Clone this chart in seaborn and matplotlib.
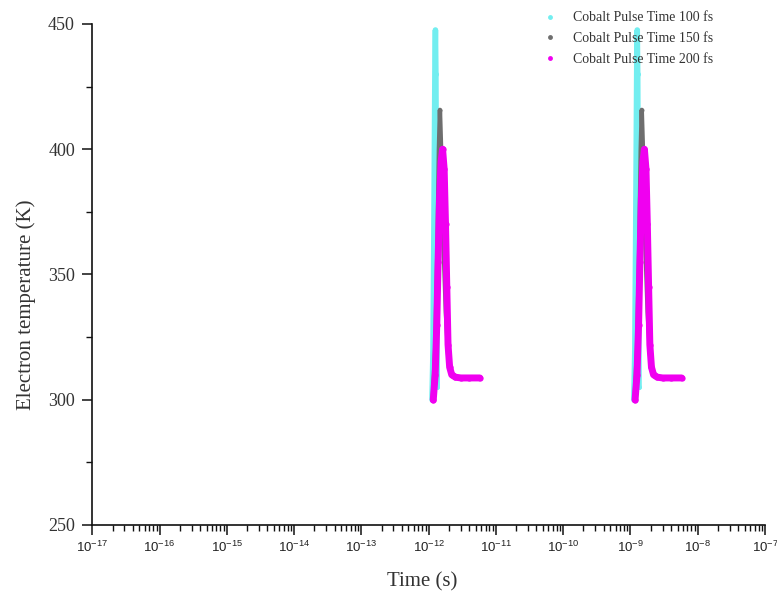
import matplotlib
matplotlib.use("Agg")
import matplotlib.pyplot as plt
from matplotlib.lines import Line2D
from matplotlib.ticker import LogLocator, MultipleLocator, NullFormatter
import numpy as np
import pandas as pd
import seaborn as sns

# Electron temperature traces (time in ps, temperature in K)
time_100fs = [1.12, 1.16, 1.19, 1.22, 1.24, 1.26, 1.28, 1.30, 1.32, 1.34]
temp_100fs = [300, 320, 360, 405, 435, 447.6, 430, 390, 345, 305]

time_150fs = [1.15, 1.25, 1.35, 1.42, 1.47, 1.55, 1.65, 1.80, 1.95, 2.15, 2.5, 3.5, 5.5]
temp_150fs = [300, 320, 360, 400, 415.7, 395, 365, 335, 318, 311, 309, 308.7, 308.7]

time_200fs = [1.17, 1.25, 1.32, 1.38, 1.45, 1.53, 1.61, 1.70, 1.78, 1.86, 1.94,
              2.05, 2.2, 2.5, 3.0, 4.0, 5.75]
temp_200fs = [299.9, 310, 330, 355, 380, 395, 400, 392, 370, 345, 322,
              313, 310, 309, 308.7, 308.7, 308.7]

labels = ["Cobalt Pulse Time 100 fs", "Cobalt Pulse Time 150 fs", "Cobalt Pulse Time 200 fs"]
colors = ["#72EEF0", "#6E6E6E", "#F000F0"]
widths = [4.0, 3.2, 5.0]

# The same runs are plotted on a picosecond and on a nanosecond time base
time_scales = [1e-12, 1e-9]

sns.set_theme(style="ticks")
plt.rcParams["font.family"] = ["Liberation Serif", "DejaVu Serif"]
plt.rcParams["axes.unicode_minus"] = False

fig = plt.figure(figsize=(7.77, 5.98), dpi=100)
ax = fig.add_axes([0.1188, 0.1221, 0.8658, 0.8378])

series = [(time_100fs, temp_100fs), (time_150fs, temp_150fs), (time_200fs, temp_200fs)]
for scale in time_scales:
    for (t, T), c, w in zip(series, colors, widths):
        df = pd.DataFrame({"time": np.array(t) * scale, "temp": T})
        sns.lineplot(data=df, x="time", y="temp", ax=ax, sort=False, estimator=None,
                     color=c, linewidth=w, marker="o", markersize=w * 0.9,
                     markeredgewidth=0, solid_capstyle="round", legend=False)

ax.set_xscale("log")
ax.set_xlim(1e-17, 1e-7)
ax.set_ylim(250, 450)

ax.xaxis.set_major_locator(LogLocator(base=10, numticks=20))
ax.xaxis.set_minor_locator(LogLocator(base=10, subs=np.arange(2, 10), numticks=200))
ax.xaxis.set_minor_formatter(NullFormatter())
ax.yaxis.set_major_locator(MultipleLocator(50))
ax.yaxis.set_minor_locator(MultipleLocator(25))

ax.tick_params(axis="both", which="major", direction="out", length=7.5, width=1.1,
               colors="#111111")
ax.tick_params(axis="both", which="minor", direction="out", length=4, width=1.0,
               colors="#111111")
ax.tick_params(axis="y", which="major", labelsize=13, pad=5, labelcolor="#333333")
ax.tick_params(axis="x", which="major", labelsize=9.5, pad=3, labelcolor="#222222")
for lbl in ax.get_xticklabels():
    lbl.set_fontfamily(["Liberation Sans", "DejaVu Sans"])

sns.despine(ax=ax)
for s in ["left", "bottom"]:
    ax.spines[s].set_linewidth(1.2)
    ax.spines[s].set_color("#111111")

ax.set_xlabel("Time (s)", fontsize=15, color="#333333")
ax.set_ylabel("Electron temperature (K)", fontsize=15, color="#333333")
ax.xaxis.set_label_coords(0.49, -0.095)
ax.yaxis.set_label_coords(-0.083, 0.44)

handles = [Line2D([], [], ls="", marker="o", markersize=3.5, markeredgewidth=0, color=c)
           for c in colors]
leg = ax.legend(handles, labels, loc="upper left", bbox_to_anchor=(0.670, 1.025),
                frameon=False, fontsize=10, handlelength=1.0, handletextpad=1.15,
                labelspacing=0.55, borderaxespad=0, borderpad=0)
for txt in leg.get_texts():
    txt.set_color("#333333")

fig.savefig("out.png", dpi=100)
